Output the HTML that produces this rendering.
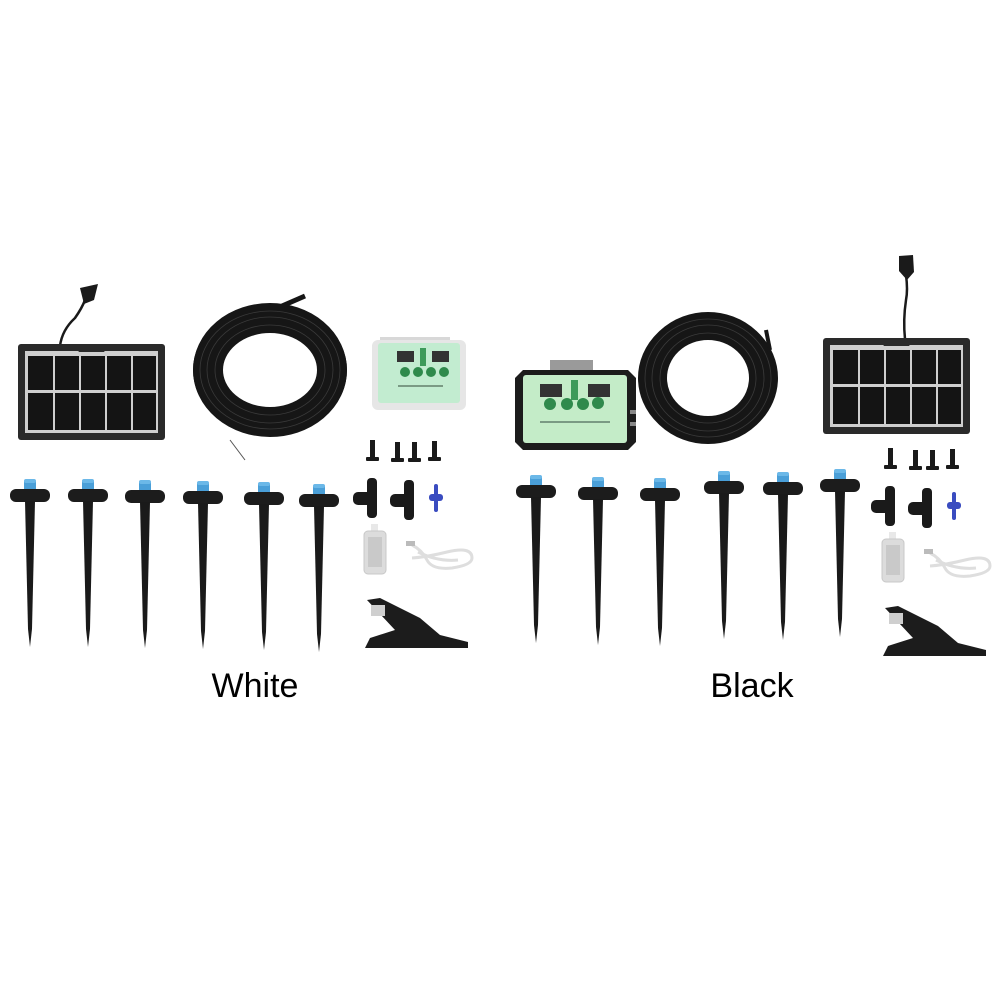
<!DOCTYPE html>
<html><head><meta charset="utf-8"><style>
html,body{margin:0;padding:0;background:#fff}
svg{display:block}
text{font-family:"Liberation Sans",Arial,sans-serif}
</style></head><body>
<svg width="1001" height="1001" viewBox="0 0 1001 1001" xmlns="http://www.w3.org/2000/svg">
<defs>
  <g id="stake">
    <rect x="-6" y="0" width="12" height="13" rx="3" fill="#4a9fd8"/>
    <rect x="-6" y="0" width="12" height="4" rx="2" fill="#6bb8e8"/>
    <rect x="-20" y="10" width="40" height="13" rx="6" fill="#1c1c1c"/>
    <polygon points="-5,22 5,22 2,150 0,168 -2,150" fill="#1a1a1a"/>
  </g>
  <g id="panel">
    <rect x="0" y="0" width="147" height="96" rx="3" fill="#2a2a2a"/>
    <rect x="7" y="7" width="133" height="82" fill="#cfcfcf"/>
    <polygon points="55,0 92,0 86,8 61,8" fill="#2a2a2a"/>
    <g fill="#141414">
      <rect x="10" y="12" width="25" height="34"/><rect x="37" y="12" width="24" height="34"/><rect x="63" y="12" width="24" height="34"/><rect x="89" y="12" width="24" height="34"/><rect x="115" y="12" width="23" height="34"/>
      <rect x="10" y="49" width="25" height="37"/><rect x="37" y="49" width="24" height="37"/><rect x="63" y="49" width="24" height="37"/><rect x="89" y="49" width="24" height="37"/><rect x="115" y="49" width="23" height="37"/>
    </g>
  </g>
  <g id="acc">
    <g fill="#1a1a1a">
      <rect x="370" y="440" width="5" height="18"/><rect x="366" y="457" width="13" height="4" rx="1"/>
      <rect x="395" y="442" width="5" height="17"/><rect x="391" y="458" width="13" height="4" rx="1"/>
      <rect x="412" y="442" width="5" height="17"/><rect x="408" y="458" width="13" height="4" rx="1"/>
      <rect x="432" y="441" width="5" height="17"/><rect x="428" y="457" width="13" height="4" rx="1"/>
    </g>
    <g fill="#1a1a1a">
      <rect x="367" y="478" width="10" height="40" rx="4"/><rect x="353" y="492" width="20" height="13" rx="5"/>
      <rect x="404" y="480" width="10" height="40" rx="4"/><rect x="390" y="494" width="20" height="13" rx="5"/>
    </g>
    <g fill="#3a4cc0">
      <rect x="434" y="484" width="4" height="28" rx="2"/><rect x="429" y="494" width="14" height="7" rx="3"/>
    </g>
    <rect x="371" y="524" width="7" height="8" fill="#e8e8e8"/>
    <rect x="364" y="531" width="22" height="43" rx="4" fill="#dcdcdc" stroke="#c8c8c8"/>
    <rect x="368" y="537" width="14" height="30" fill="#bdbdbd" opacity="0.6"/>
    <g fill="none" stroke="#dedede" stroke-width="3">
      <path d="M412 545 q10 5 15 15 q5 10 25 8 q20 -3 20 -10 q0 -12 -25 -6 q-20 5 -35 6"/>
      <path d="M418 552 q20 10 40 8"/>
    </g>
    <rect x="406" y="541" width="9" height="5" fill="#bbb"/>
    <polygon points="367,600 380,598 420,618 440,635 468,642 468,648 400,648 365,648 370,638 395,630" fill="#1c1c1c"/>
    <rect x="371" y="605" width="14" height="11" fill="#cfcfcf"/>
  </g>
</defs>

<!-- LEFT SET -->
<path d="M60 346 Q62 330 75 318 Q82 308 85 300" stroke="#1a1a1a" stroke-width="2.5" fill="none"/>
<polygon points="80,288 98,284 94,300 84,304" fill="#1a1a1a"/>
<use href="#panel" x="18" y="344"/>

<g fill="none" stroke="#161616">
  <ellipse cx="270" cy="370" rx="62" ry="52" stroke-width="30"/>
  <ellipse cx="270" cy="370" rx="75" ry="63" stroke-width="4"/>
</g>
<g fill="none" stroke="#3a3a3a" stroke-width="0.8">
  <ellipse cx="270" cy="370" rx="55" ry="45"/><ellipse cx="270" cy="370" rx="63" ry="53"/><ellipse cx="270" cy="370" rx="70" ry="59"/>
</g>
<line x1="282" y1="306" x2="305" y2="296" stroke="#161616" stroke-width="5"/>
<line x1="230" y1="440" x2="245" y2="460" stroke="#555" stroke-width="1"/>

<rect x="380" y="337" width="70" height="8" fill="#d8d8d8"/>
<rect x="372" y="340" width="94" height="70" rx="6" fill="#e6e6e6"/>
<rect x="378" y="343" width="82" height="60" rx="3" fill="#c2ecd0"/>
<rect x="397" y="351" width="17" height="11" fill="#333"/>
<rect x="432" y="351" width="17" height="11" fill="#333"/>
<rect x="420" y="348" width="6" height="18" fill="#3d9a5a"/>
<g fill="#2f8a4c"><circle cx="405" cy="372" r="5"/><circle cx="418" cy="372" r="5"/><circle cx="431" cy="372" r="5"/><circle cx="444" cy="372" r="5"/></g>
<rect x="398" y="385" width="45" height="2" fill="#7a9a84"/>

<use href="#stake" x="30" y="479"/>
<use href="#stake" x="88" y="479"/>
<use href="#stake" x="145" y="480"/>
<use href="#stake" x="203" y="481"/>
<use href="#stake" x="264" y="482"/>
<use href="#stake" x="319" y="484"/>
<use href="#acc"/>

<!-- RIGHT SET -->
<rect x="550" y="360" width="43" height="16" fill="#9a9a9a"/>
<polygon points="523,370 628,370 636,378 636,442 628,450 523,450 515,442 515,378" fill="#1c1c1c"/>
<rect x="523" y="375" width="104" height="68" rx="3" fill="#c4ecc8"/>
<rect x="540" y="384" width="22" height="13" fill="#333"/>
<rect x="588" y="384" width="22" height="13" fill="#333"/>
<rect x="571" y="380" width="7" height="20" fill="#3d9a5a"/>
<g fill="#2f8a4c"><circle cx="550" cy="404" r="6"/><circle cx="567" cy="404" r="6"/><circle cx="583" cy="404" r="6"/><circle cx="598" cy="403" r="6"/></g>
<rect x="540" y="421" width="70" height="2" fill="#7a9a84"/>
<rect x="630" y="410" width="6" height="4" fill="#888"/><rect x="630" y="422" width="6" height="4" fill="#888"/>

<g fill="none" stroke="#161616">
  <ellipse cx="708" cy="378" rx="55" ry="52" stroke-width="28"/>
  <ellipse cx="708" cy="378" rx="68" ry="63" stroke-width="4"/>
</g>
<g fill="none" stroke="#3a3a3a" stroke-width="0.8">
  <ellipse cx="708" cy="378" rx="48" ry="45"/><ellipse cx="708" cy="378" rx="56" ry="53"/><ellipse cx="708" cy="378" rx="63" ry="59"/>
</g>
<line x1="766" y1="330" x2="770" y2="350" stroke="#161616" stroke-width="4"/>

<path d="M905 339 Q903 320 906 300 Q908 290 906 275" stroke="#1a1a1a" stroke-width="2.5" fill="none"/>
<polygon points="899,256 913,255 914,272 907,280 899,271" fill="#1a1a1a"/>
<use href="#panel" x="823" y="338"/>

<use href="#stake" x="536" y="475"/>
<use href="#stake" x="598" y="477"/>
<use href="#stake" x="660" y="478"/>
<use href="#stake" x="724" y="471"/>
<use href="#stake" x="783" y="472"/>
<use href="#stake" x="840" y="469"/>
<use href="#acc" x="518" y="8"/>

<text x="255" y="697" font-size="34" text-anchor="middle" fill="#000">White</text>
<text x="752" y="697" font-size="34" text-anchor="middle" fill="#000">Black</text>
</svg>
</body></html>
